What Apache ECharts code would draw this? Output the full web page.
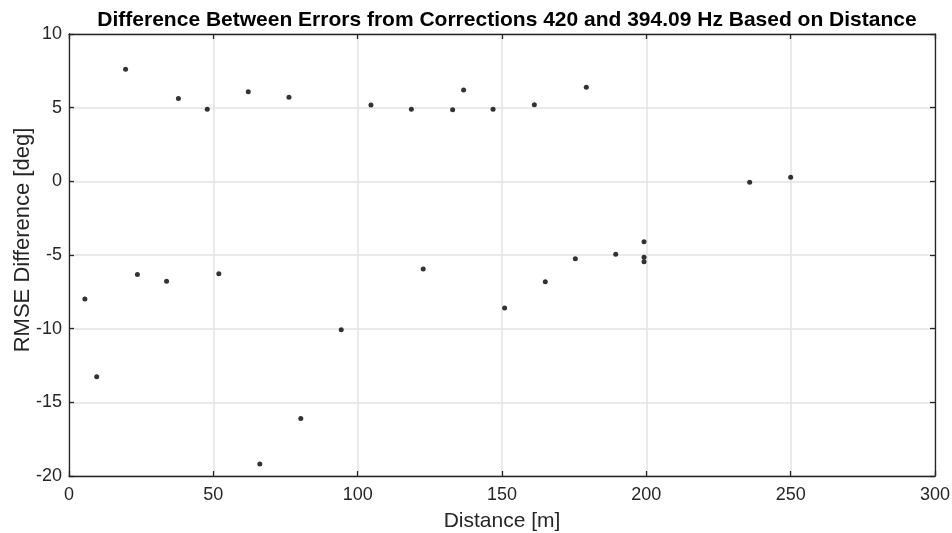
<!DOCTYPE html>
<html>
<head>
<meta charset="utf-8">
<script src="https://cdn.jsdelivr.net/npm/echarts@6/dist/echarts.min.js"></script>
<style>html,body{margin:0;padding:0;background:#fff;}#c{width:952px;height:533px;}</style>
</head>
<body>
<div id="c"></div>
<script>
var distance = [5.5, 9.6, 19.6, 23.7, 33.8, 37.9, 47.9, 51.9, 62.1, 66.1, 76.2, 80.3, 94.3, 104.6, 118.6, 122.7, 132.9, 136.7, 146.9, 150.9, 161.2, 165.0, 175.4, 179.2, 189.4, 199.2, 199.2, 199.2, 235.8, 250.0];
var rmseDiff = [-7.99, -13.26, 7.6, -6.33, -6.78, 5.63, 4.89, -6.28, 6.08, -19.19, 5.70, -16.1, -10.07, 5.18, 4.89, -5.95, 4.86, 6.2, 4.89, -8.6, 5.2, -6.82, -5.25, 6.38, -4.95, -4.1, -5.15, -5.45, -0.07, 0.27];
var xTicks = [0, 50, 100, 150, 200, 250, 300];
var yTicks = [-20, -15, -10, -5, 0, 5, 10];

var pts = distance.map(function (d, i) { return [d, rmseDiff[i]]; });
var font = 'Liberation Sans, Arial, Helvetica, sans-serif';
var axisLine = { show: true, onZero: false, lineStyle: { color: '#262626', width: 1.3 } };
var tick = { show: true, inside: true, length: 5, lineStyle: { color: '#262626', width: 1.3 } };

var chart = echarts.init(document.getElementById('c'), null, { renderer: 'canvas' });
chart.setOption({
  animation: false,
  backgroundColor: '#fff',
  title: {
    text: 'Difference Between Errors from Corrections 420 and 394.09 Hz Based on Distance',
    left: 502, top: 5, textAlign: 'center',
    textStyle: { fontFamily: font, fontWeight: 'bold', fontSize: 21, color: '#000' }
  },
  grid: { left: 69, right: 17, top: 34, bottom: 57, containLabel: false, outerBoundsMode: 'none' },
  xAxis: [{
    type: 'value', min: xTicks[0], max: xTicks[xTicks.length - 1], interval: 50,
    position: 'bottom',
    name: 'Distance [m]', nameLocation: 'middle', nameGap: 35, nameMoveOverlap: false,
    nameTextStyle: { fontFamily: font, fontSize: 21, color: '#262626' },
    axisLine: axisLine, axisTick: tick,
    axisLabel: { fontFamily: font, fontSize: 18, color: '#262626', margin: 10 },
    splitLine: { show: true, lineStyle: { color: '#e3e3e3', width: 1.5 } }
  }, {
    type: 'value', min: xTicks[0], max: xTicks[xTicks.length - 1], interval: 50,
    position: 'top', axisLine: axisLine, axisTick: tick,
    axisLabel: { show: false }, splitLine: { show: false }
  }],
  yAxis: [{
    type: 'value', min: yTicks[0], max: yTicks[yTicks.length - 1], interval: 5,
    position: 'left',
    name: 'RMSE Difference [deg]', nameLocation: 'middle', nameGap: 35, nameMoveOverlap: false,
    nameTextStyle: { fontFamily: font, fontSize: 22, color: '#262626', padding: [0, 0, 0, 30] },
    axisLine: axisLine, axisTick: tick,
    axisLabel: { fontFamily: font, fontSize: 18, color: '#262626', margin: 7 },
    splitLine: { show: true, lineStyle: { color: '#e3e3e3', width: 1.5 } }
  }, {
    type: 'value', min: yTicks[0], max: yTicks[yTicks.length - 1], interval: 5,
    position: 'right', axisLine: axisLine, axisTick: tick,
    axisLabel: { show: false }, splitLine: { show: false }
  }],
  series: [{
    type: 'scatter', xAxisIndex: 0, yAxisIndex: 0,
    data: pts, symbol: 'circle', symbolSize: 5,
    itemStyle: { color: '#000' }
  }]
});
</script>
</body>
</html>
